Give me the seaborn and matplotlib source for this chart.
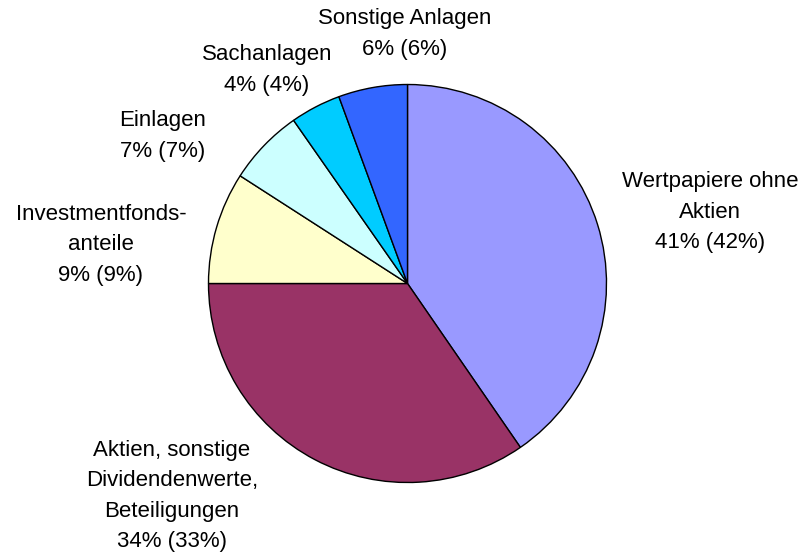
import matplotlib
matplotlib.use("Agg")
import matplotlib.pyplot as plt
import seaborn as sns

# Data
categories = ["Wertpapiere ohne\nAktien", "Aktien, sonstige\nDividendenwerte,\nBeteiligungen",
              "Investmentfonds-\nanteile", "Einlagen", "Sachanlagen", "Sonstige Anlagen"]
shares = [40.4, 34.6, 9.1, 6.2, 4.1, 5.6]
pct_labels = ["41% (42%)", "34% (33%)", "9% (9%)", "7% (7%)", "4% (4%)", "6% (6%)"]

colors = ["#9999FF", "#993366", "#FFFFCC", "#CCFFFF", "#00CCFF", "#3366FF"]
# label centre positions in pixels (x, y from top)
label_pos = [(710, 212), (172, 496), (101, 245), (163, 136), (267, 70), (405, 34)]

sns.set_theme(style="white")
plt.rcParams['font.family'] = ['Liberation Sans', 'DejaVu Sans']

W, H = 807, 554
fig = plt.figure(figsize=(W / 100, H / 100), dpi=100)
ax = fig.add_axes([0, 0, 1, 1])
ax.set_aspect('equal')
ax.axis('off')

ax.pie(shares, colors=colors, startangle=90, counterclock=False,
       center=(407.5, H - 283.5), radius=199,
       wedgeprops=dict(edgecolor='black', linewidth=1.0))
ax.set_xlim(0, W)
ax.set_ylim(0, H)

for cat, pct, (x, y) in zip(categories, pct_labels, label_pos):
    ax.text(x, H - y, cat + "\n" + pct, ha='center', va='center',
            fontsize=16, linespacing=1.58, color='black')

fig.savefig("out.png", dpi=100)
